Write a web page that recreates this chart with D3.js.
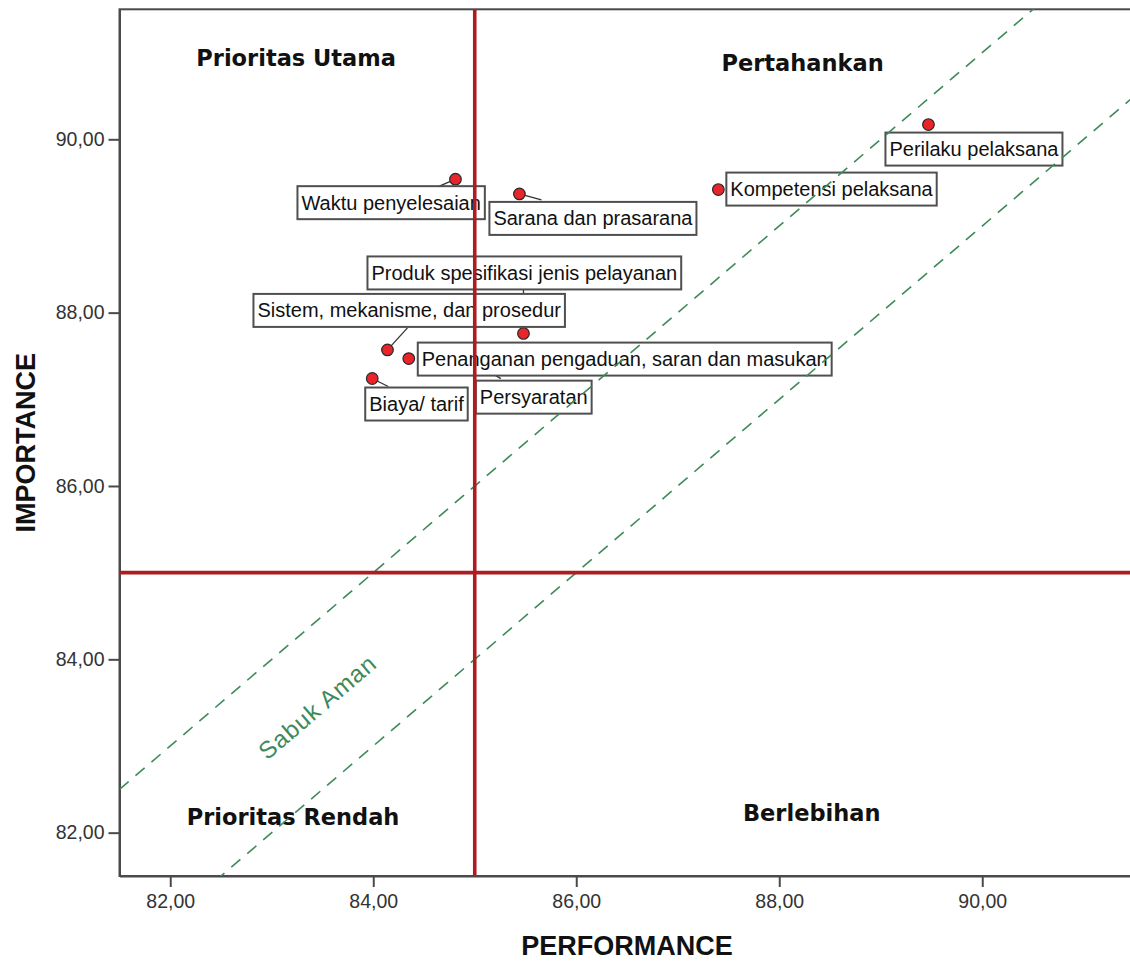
<!DOCTYPE html>
<html>
<head>
<meta charset="utf-8">
<script src="https://cdn.jsdelivr.net/npm/d3@7"></script>
<style>
  body { margin: 0; background: #fff; }
  svg { display: block; font-family: "Liberation Sans", Arial, sans-serif; }
</style>
</head>
<body>
<div id="viz"></div>
<script>
const attributes = [
  'Persyaratan',
  'Sistem, mekanisme, dan prosedur',
  'Waktu penyelesaian',
  'Biaya/ tarif',
  'Produk spesifikasi jenis pelayanan',
  'Kompetensi pelaksana',
  'Perilaku pelaksana',
  'Sarana dan prasarana',
  'Penanganan pengaduan, saran dan masukan'
];
const performance = [85.03, 84.14, 84.81, 83.99, 85.48, 87.40, 89.47, 85.44, 84.35];
const importance  = [87.40, 87.57, 89.54, 87.24, 87.76, 89.42, 90.17, 89.37, 87.47];

const xTicks = [82, 84, 86, 88, 90];
const yTicks = [82, 84, 86, 88, 90];
const axisDomain = [81.5, 91.5];

const meanPerformance = 85;
const meanImportance = 85;
const beltOffset = 1;   // sabuk aman: importance = performance +/- 1

const quadrantNames = ['Prioritas Utama', 'Pertahankan', 'Prioritas Rendah', 'Berlebihan'];

// layout only (label boxes relative to their point, in px)
const labelLayout = [
  { box: [-2, 16],    lead: [23, 14] },
  { box: [-134, -56], lead: [20, -22] },
  { box: [-158, 7],   lead: [-16, 7] },
  { box: [-7, 9],     lead: [16, 8] },
  { box: [-156, -77], lead: [0, -44] },
  { box: [8, -17],    lead: null },
  { box: [-43, 8],    lead: null },
  { box: [-30, 8],    lead: [22, 6] },
  { box: [9, -16],    lead: null }
];
// quadrant title anchors, in data units
const quadrantAnchor = [[83.24, 90.85], [88.23, 90.79], [83.21, 82.09], [88.32, 82.13]];

const width = 1130;
const height = 963;
const plot = { left: 119.5, top: 9.3, right: 1134.5, bottom: 876 };

const svg = d3.select('#viz').append('svg')
  .attr('width', width)
  .attr('height', height)
  .style('overflow', 'hidden');

const x = d3.scaleLinear().domain(axisDomain).range([plot.left, plot.right]);
const y = d3.scaleLinear().domain(axisDomain).range([plot.bottom, plot.top]);

const fmt = d => d3.format('.2f')(d).replace('.', ',');

// frame
svg.append('rect')
  .attr('x', plot.left)
  .attr('y', plot.top)
  .attr('width', plot.right - plot.left)
  .attr('height', plot.bottom - plot.top)
  .attr('fill', 'none')
  .attr('stroke', '#4a4a4a')
  .attr('stroke-width', 2);

const xaxis = svg.append('g')
  .attr('transform', `translate(0, ${plot.bottom})`)
  .call(d3.axisBottom(x).tickValues(xTicks).tickFormat(fmt)
    .tickSizeInner(11).tickSizeOuter(0).tickPadding(7));

const yaxis = svg.append('g')
  .attr('transform', `translate(${plot.left}, 0)`)
  .call(d3.axisLeft(y).tickValues(yTicks).tickFormat(fmt)
    .tickSizeInner(11).tickSizeOuter(0).tickPadding(4));

[xaxis, yaxis].forEach(ax => {
  ax.select('.domain').attr('stroke', '#4a4a4a').attr('stroke-width', 2);
  ax.selectAll('.tick line').attr('stroke', '#4a4a4a').attr('stroke-width', 2);
  ax.selectAll('.tick text')
    .style('font-family', '"Liberation Sans", Arial, sans-serif')
    .style('font-size', '19.5px')
    .attr('fill', '#333');
});

svg.append('text')
  .attr('x', (plot.left + plot.right) / 2)
  .attr('y', 955)
  .attr('text-anchor', 'middle')
  .style('font-size', '27px')
  .style('font-weight', 700)
  .attr('fill', '#111')
  .text('PERFORMANCE');

svg.append('text')
  .attr('transform', `translate(35, ${(plot.top + plot.bottom) / 2}) rotate(-90)`)
  .attr('text-anchor', 'middle')
  .style('font-size', '27px')
  .style('font-weight', 700)
  .attr('fill', '#111')
  .text('IMPORTANCE');

// quadrant titles
svg.selectAll('.quadrant')
  .data(quadrantNames)
  .enter()
  .append('text')
  .attr('class', 'quadrant')
  .attr('x', (d, i) => x(quadrantAnchor[i][0]))
  .attr('y', (d, i) => y(quadrantAnchor[i][1]))
  .attr('text-anchor', 'middle')
  .style('font-family', '"DejaVu Sans", sans-serif')
  .style('font-size', '22.5px')
  .style('font-weight', 700)
  .attr('fill', '#111')
  .text(d => d);

const points = attributes.map((name, i) => ({
  name: name,
  px: x(performance[i]),
  py: y(importance[i]),
  layout: labelLayout[i]
}));

// leader lines
svg.selectAll('.leader')
  .data(points.filter(d => d.layout.lead))
  .enter()
  .append('line')
  .attr('class', 'leader')
  .attr('x1', d => d.px)
  .attr('y1', d => d.py)
  .attr('x2', d => d.px + d.layout.lead[0])
  .attr('y2', d => d.py + d.layout.lead[1])
  .attr('stroke', '#333')
  .attr('stroke-width', 1.3);

svg.selectAll('.point')
  .data(points)
  .enter()
  .append('circle')
  .attr('class', 'point')
  .attr('cx', d => d.px)
  .attr('cy', d => d.py)
  .attr('r', 5.8)
  .attr('fill', '#e8252b')
  .attr('stroke', '#2a2a2a')
  .attr('stroke-width', 1.2);

// label boxes
const labels = svg.selectAll('.label')
  .data(points)
  .enter()
  .append('g')
  .attr('class', 'label')
  .attr('transform', d => `translate(${d.px + d.layout.box[0]}, ${d.py + d.layout.box[1]})`);

labels.append('rect')
  .attr('height', 33)
  .attr('fill', '#fff')
  .attr('stroke', '#4f4f4f')
  .attr('stroke-width', 2);

labels.append('text')
  .attr('x', 4)
  .attr('y', 16.5)
  .attr('dy', '0.35em')
  .style('font-size', '20px')
  .attr('fill', '#111')
  .text(d => d.name);

labels.each(function() {
  const g = d3.select(this);
  const w = g.select('text').node().getComputedTextLength();
  g.select('rect').attr('width', w + 8);
});

// sabuk aman lines
const belt = [beltOffset, -beltOffset];
const lineFor = off => {
  const xs = [axisDomain[0], axisDomain[1]];
  return xs.map(v => [x(v), y(v + off)]);
};

svg.append('clipPath').attr('id', 'clip')
  .append('rect')
  .attr('x', plot.left)
  .attr('y', plot.top)
  .attr('width', plot.right - plot.left)
  .attr('height', plot.bottom - plot.top);

svg.append('g')
  .attr('clip-path', 'url(#clip)')
  .selectAll('.belt')
  .data(belt)
  .enter()
  .append('path')
  .attr('class', 'belt')
  .attr('d', d => d3.line()(lineFor(d)))
  .attr('fill', 'none')
  .attr('stroke', '#3d8a5b')
  .attr('stroke-width', 1.6)
  .attr('stroke-dasharray', '12,9');

const angle = -Math.atan2(y(0) - y(1), x(1) - x(0)) * 180 / Math.PI;
svg.append('text')
  .attr('transform', `translate(${x(83.45)}, ${y(83.45)}) rotate(${angle})`)
  .attr('text-anchor', 'middle')
  .attr('dy', '0.35em')
  .style('font-size', '24px')
  .style('letter-spacing', '1px')
  .attr('fill', '#3d8a5b')
  .text('Sabuk Aman');

// mean lines
svg.append('line')
  .attr('x1', plot.left)
  .attr('x2', plot.right)
  .attr('y1', y(meanImportance))
  .attr('y2', y(meanImportance))
  .attr('stroke', '#ae1c22')
  .attr('stroke-width', 3.6);

svg.append('line')
  .attr('x1', x(meanPerformance))
  .attr('x2', x(meanPerformance))
  .attr('y1', plot.top)
  .attr('y2', plot.bottom)
  .attr('stroke', '#ae1c22')
  .attr('stroke-width', 3.6);
</script>
</body>
</html>
